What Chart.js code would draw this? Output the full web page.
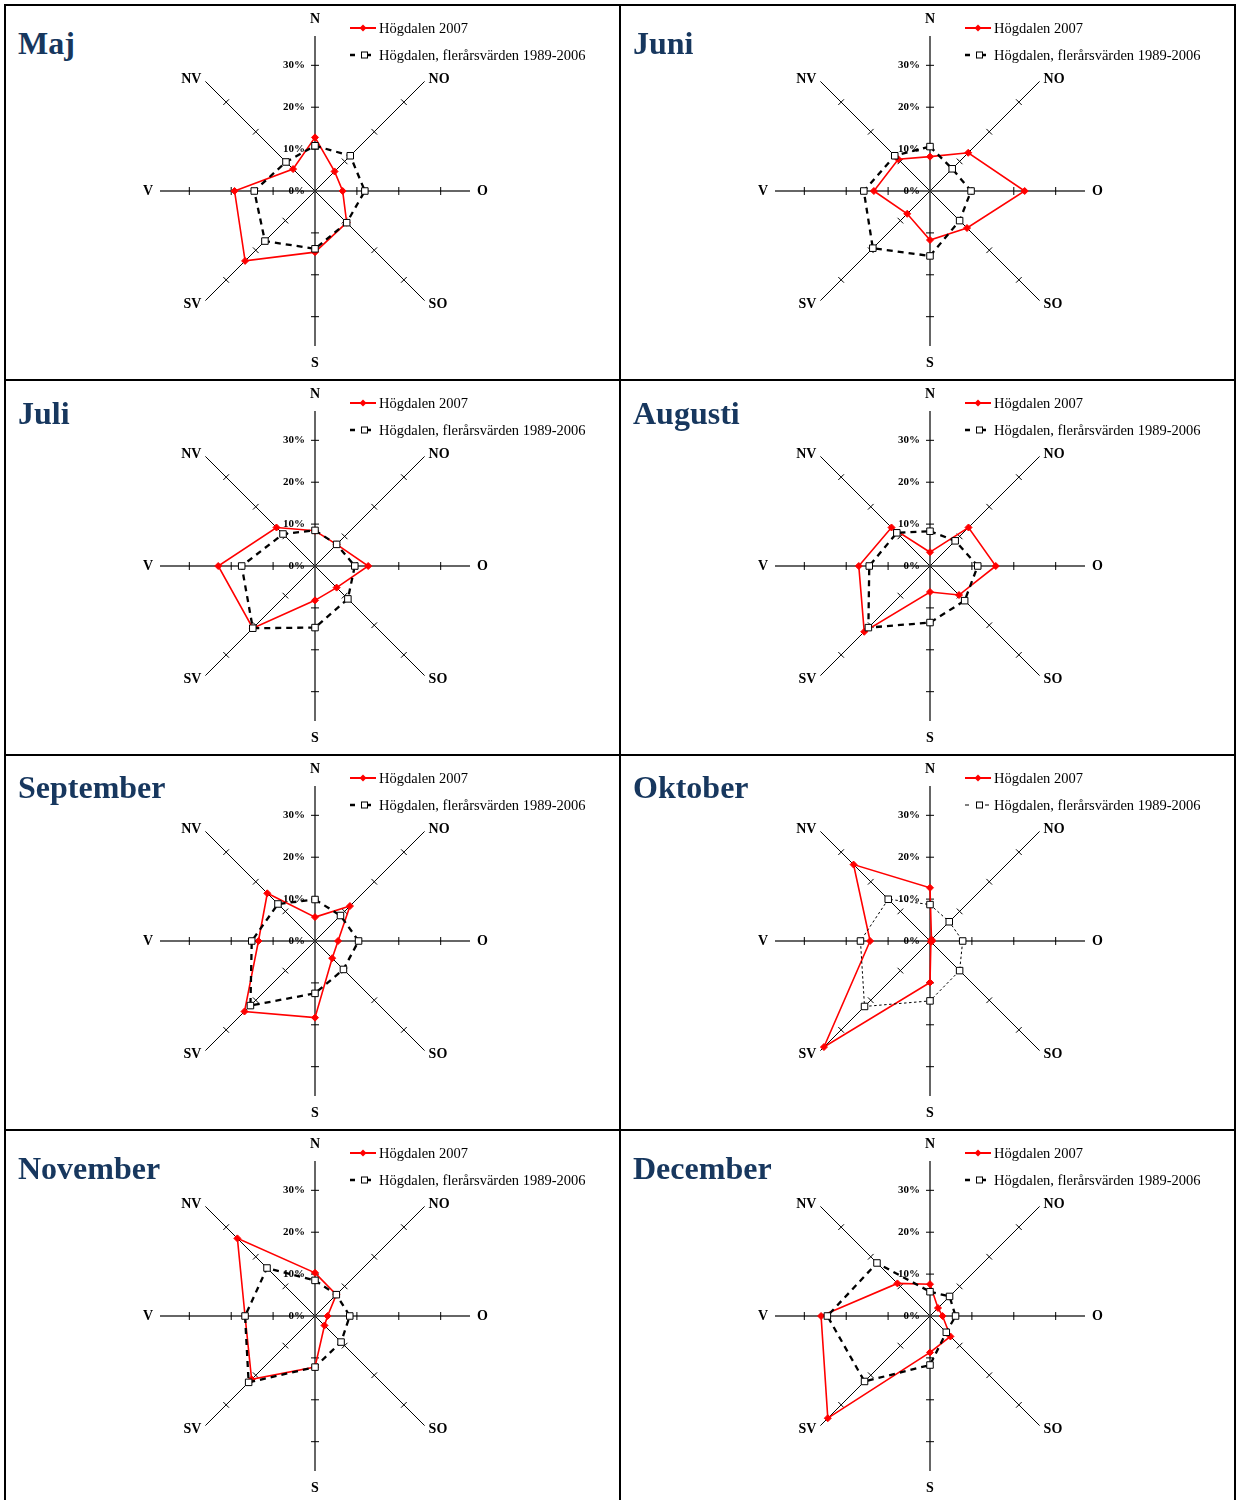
<!DOCTYPE html>
<html lang="sv">
<head>
<meta charset="utf-8">
<title>Vindriktning Högdalen 2007</title>
<script src="https://cdn.jsdelivr.net/npm/chart.js@4.4.1/dist/chart.umd.min.js"></script>
<style>
  html, body { margin: 0; padding: 0; background: #fff; }
  body { width: 1236px; height: 1500px; position: relative; overflow: hidden;
         font-family: "Liberation Serif", "Times New Roman", serif; }
  .panel { position: absolute; width: 617px; height: 377px; border: 2px solid #000; box-sizing: border-box; }
  .panel canvas { position: absolute; left: 119px; top: -5px; }
  .title { position: absolute; left: 12px; font-weight: bold; font-size: 32px; line-height: 32px;
           color: #17375e; white-space: nowrap; }
  .leg { position: absolute; left: 344px; height: 16px; font-size: 14.5px; line-height: 16px; white-space: nowrap; }
  .leg svg { position: absolute; left: 0; top: 0; }
  .leg span { position: absolute; left: 29px; top: 0; }
</style>
</head>
<body>
<script>
// vindriktningar, medsols från norr
const directions = ['N', 'NO', 'O', 'SO', 'S', 'SV', 'V', 'NV'];
const months = ['Maj', 'Juni', 'Juli', 'Augusti', 'September', 'Oktober', 'November', 'December'];
const tickValues = [0, 10, 20, 30];
const axisMax = 37;

// andel (%) per riktning
const maj2007     = [12.8, 6.6, 6.6, 10.7, 14.6, 23.6, 19.2, 7.4];
const majNormal   = [10.8, 11.9, 11.9, 10.7, 13.8, 16.9, 14.5, 9.8];
const juni2007    = [8.2, 12.9, 22.6, 12.5, 11.7, 7.7, 13.4, 10.7];
const juniNormal  = [10.6, 7.5, 9.8, 10.0, 15.5, 19.3, 15.8, 11.9];
const juli2007    = [8.4, 7.3, 12.7, 7.3, 8.2, 21.0, 23.1, 13.0];
const juliNormal  = [8.5, 7.3, 9.5, 11.1, 14.7, 21.0, 17.5, 10.8];
const aug2007     = [3.3, 13.0, 15.7, 9.8, 6.2, 22.2, 17.0, 13.0];
const augNormal   = [8.3, 8.5, 11.4, 11.7, 13.5, 20.8, 14.5, 11.2];
const sep2007     = [5.7, 11.8, 5.5, 5.8, 18.3, 23.8, 13.5, 16.1];
const sepNormal   = [9.9, 8.6, 10.4, 9.6, 12.5, 21.8, 15.1, 12.5];
const okt2007     = [12.7, 0.5, 0.5, 0.3, 9.9, 35.8, 14.3, 25.8];
const oktNormal   = [8.7, 6.5, 7.8, 10.0, 14.3, 22.1, 16.6, 14.1];
const nov2007     = [10.3, 7.2, 3.0, 3.2, 12.2, 21.4, 16.7, 26.2];
const novNormal   = [8.5, 7.2, 8.3, 8.8, 12.2, 22.4, 16.7, 16.2];
const dec2007     = [7.6, 2.7, 3.0, 6.9, 8.7, 34.5, 26.0, 11.0];
const decNormal   = [5.8, 6.6, 6.1, 5.5, 11.7, 22.1, 24.5, 17.9];

const series2007   = [maj2007, juni2007, juli2007, aug2007, sep2007, okt2007, nov2007, dec2007];
const seriesNormal = [majNormal, juniNormal, juliNormal, augNormal, sepNormal, oktNormal, novNormal, decNormal];

const label2007 = 'Högdalen 2007';
const labelNormal = 'Högdalen, flerårsvärden 1989-2006';

const titleTops = [20.7, 16.2, 14.7, 20.7];

// streck på axlarna + etiketter
const roseAxes = {
  id: 'roseAxes',
  beforeDatasetsDraw(chart) {
    const s = chart.scales.r, ctx = chart.ctx;
    ctx.save();
    ctx.strokeStyle = '#000';
    ctx.lineWidth = 1;
    directions.forEach((d, i) => {
      const a = s.getIndexAngle(i) - Math.PI / 2;
      const nx = -Math.sin(a), ny = Math.cos(a);
      tickValues.forEach(v => {
        if (v === 0) return;
        const p = s.getPointPositionForValue(i, v);
        ctx.beginPath();
        ctx.moveTo(p.x - nx * 4, p.y - ny * 4);
        ctx.lineTo(p.x + nx * 4, p.y + ny * 4);
        ctx.stroke();
      });
    });
    // procent längs N-axeln
    ctx.fillStyle = '#000';
    ctx.font = 'bold 11px "Liberation Serif", serif';
    ctx.textAlign = 'right';
    ctx.textBaseline = 'middle';
    tickValues.forEach(v => {
      const p = s.getPointPositionForValue(0, v);
      ctx.fillText(v + '%', p.x - 10, p.y);
    });
    ctx.restore();
  },
  afterDraw(chart) {
    const s = chart.scales.r, ctx = chart.ctx;
    ctx.save();
    ctx.fillStyle = '#000';
    ctx.font = 'bold 14px "Liberation Serif", serif';
    ctx.textBaseline = 'middle';
    directions.forEach((d, i) => {
      const p = s.getPointPositionForValue(i, s.max);
      const a = s.getIndexAngle(i) - Math.PI / 2;
      const cx = Math.cos(a), cy = Math.sin(a);
      let x = p.x, y = p.y;
      if (Math.abs(cx) < 0.01) {
        ctx.textAlign = 'center';
        y += cy * 17;
      } else if (Math.abs(cy) < 0.01) {
        ctx.textAlign = cx > 0 ? 'left' : 'right';
        x += cx * 7;
      } else {
        ctx.textAlign = cx > 0 ? 'left' : 'right';
        x += cx > 0 ? 4 : -4;
        y += cy < 0 ? -2 : 4;
      }
      ctx.fillText(d, x, y);
    });
    ctx.restore();
  }
};

function legendSvg(kind, dotted) {
  if (kind === 'red') {
    return '<svg width="28" height="16"><line x1="0" y1="8" x2="26" y2="8" stroke="#f00" stroke-width="2"/>' +
      '<path d="M13 4.5 L16.5 8 L13 11.5 L9.5 8 Z" fill="#f00"/></svg>';
  }
  if (dotted) {
    return '<svg width="28" height="16"><line x1="0" y1="8" x2="4" y2="8" stroke="#000" stroke-width="1"/>' +
      '<rect x="11.5" y="5" width="6" height="6" fill="#fff" stroke="#000" stroke-width="1"/>' +
      '<line x1="20" y1="8" x2="24" y2="8" stroke="#000" stroke-width="1"/></svg>';
  }
  return '<svg width="28" height="16"><line x1="0" y1="8" x2="5" y2="8" stroke="#000" stroke-width="2.5"/>' +
    '<rect x="11.5" y="5" width="6" height="6" fill="#fff" stroke="#000" stroke-width="1"/>' +
    '<line x1="18" y1="8" x2="21" y2="8" stroke="#000" stroke-width="2.5"/></svg>';
}

months.forEach((m, k) => {
  const col = k % 2, row = Math.floor(k / 2);
  const dotted = m === 'Oktober';

  const panel = document.createElement('div');
  panel.className = 'panel';
  panel.style.left = (4 + col * 615) + 'px';
  panel.style.top = (4 + row * 375) + 'px';
  document.body.appendChild(panel);

  const cv = document.createElement('canvas');
  cv.width = 380;
  cv.height = 380;
  panel.appendChild(cv);

  const title = document.createElement('div');
  title.className = 'title';
  title.style.top = titleTops[row] + 'px';
  title.textContent = m;
  panel.appendChild(title);

  const l1 = document.createElement('div');
  l1.className = 'leg';
  l1.style.top = '14px';
  l1.innerHTML = legendSvg('red') + '<span>' + label2007 + '</span>';
  panel.appendChild(l1);

  const l2 = document.createElement('div');
  l2.className = 'leg';
  l2.style.top = '41px';
  l2.innerHTML = legendSvg('black', dotted) + '<span>' + labelNormal + '</span>';
  panel.appendChild(l2);

  new Chart(cv.getContext('2d'), {
    type: 'radar',
    data: {
      labels: directions,
      datasets: [
        {
          label: label2007,
          data: series2007[k],
          order: 2,
          borderColor: '#ff0000',
          borderWidth: 1.6,
          fill: false,
          pointStyle: 'rectRot',
          pointRadius: 3.5,
          pointBackgroundColor: '#ff0000',
          pointBorderColor: '#ff0000',
          pointBorderWidth: 1
        },
        {
          label: labelNormal,
          data: seriesNormal[k],
          order: 1,
          borderColor: '#000',
          borderWidth: dotted ? 1 : 2.3,
          borderDash: dotted ? [2.5, 2.5] : [6, 5],
          fill: false,
          pointStyle: 'rect',
          pointRadius: 4.6,
          pointBackgroundColor: '#fff',
          pointBorderColor: '#000',
          pointBorderWidth: 1
        }
      ]
    },
    options: {
      responsive: false,
      animation: false,
      devicePixelRatio: 1,
      layout: { padding: 35 },
      elements: { line: { tension: 0 } },
      plugins: { legend: { display: false }, tooltip: { enabled: false } },
      scales: {
        r: {
          min: 0,
          max: axisMax,
          startAngle: 0,
          ticks: { display: false, stepSize: 10 },
          grid: { display: false },
          pointLabels: { display: false },
          angleLines: {
            display: true,
            color: c => (c.index % 2 === 0 ? '#333' : '#000'),
            lineWidth: c => (c.index % 2 === 0 ? 1.5 : 1)
          }
        }
      }
    },
    plugins: [roseAxes]
  });
});
</script>
</body>
</html>
